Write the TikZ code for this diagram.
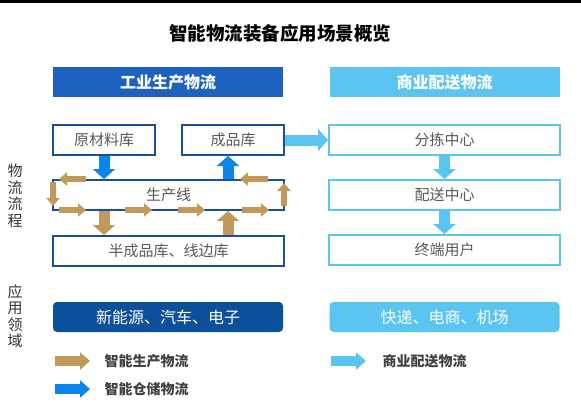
\documentclass[tikz,border=0pt]{standalone}
\usepackage{fontspec}
\setmainfont{Noto Sans CJK SC}
\usetikzlibrary{positioning, arrows.meta}
\usepackage{xcolor}
\definecolor{indblue}{HTML}{1E62C0}
\definecolor{comblue}{HTML}{5BC4F1}
\definecolor{frameblue}{HTML}{1B4F9C}
\definecolor{appblue}{HTML}{0C4F9B}
\definecolor{storeblue}{HTML}{0A86EA}
\definecolor{prodgold}{HTML}{C09A5A}
\definecolor{boxgray}{HTML}{595959}

\begin{document}
\begin{tikzpicture}[
        x=1pt, y=-1pt,
        hdr/.style={rectangle, minimum width=230pt, minimum height=30pt, text=white, font=\fontsize{16}{18}\selectfont\bfseries},
        box/.style={rectangle, draw=frameblue, line width=2pt, fill=white, minimum height=30pt, text=boxgray, font=\fontsize{15}{17}\selectfont},
        cbox/.style={box, draw=comblue, minimum width=231pt},
        app/.style={rectangle, rounded corners=4pt, minimum width=230pt, minimum height=30pt, text=white, font=\fontsize{16}{18}\selectfont},
        side/.style={align=center, text=black!80, font=\fontsize{15}{16.5}\selectfont},
        lgd/.style={anchor=west, text=black!75, font=\fontsize{14}{16}\selectfont\bfseries},
        bigarrow/.style={-{Triangle[length=10pt, width=22pt]}, line width=11pt},
        smallarrow/.style={-{Triangle[length=8pt, width=13pt]}, line width=6.5pt, prodgold},
        lgdarrow/.style={-{Triangle[length=10pt, width=17pt]}, line width=10pt}
    ]
        \useasboundingbox (0,0) rectangle (581,407);
        \fill[black] (0,0) rectangle (581,2.5);

        % Title
        \node[font=\fontsize{18.5}{20}\selectfont\bfseries] (title) at (280,33) {智能物流装备应用场景概览};

        % Headers
        \node[hdr, fill=indblue] (ind) at (168,82) {工业生产物流};
        \node[hdr, fill=comblue] (com) at (444.5,82) {商业配送物流};

        % Side labels
        \node[side] (flow) at (15,196) {物\\流\\流\\程};
        \node[side] (field) at (15,316) {应\\用\\领\\域};

        % Industrial flow
        \node[box, minimum width=102pt] (raw) at (104,140) {原材料库};
        \node[box, minimum width=102pt, right=25pt of raw] (fin) {成品库};
        \node[box, minimum width=231pt] (line) at (168.5,195) {生产线};
        \node[box, minimum width=231pt, below=24pt of line] (semi) {半成品库、线边库};

        % Commercial flow
        \node[cbox] (sort) at (444.5,140) {分拣中心};
        \node[cbox, below=23pt of sort] (dist) {配送中心};
        \node[cbox, below=23pt of dist] (user) {终端用户};

        % Applications
        \node[app, fill=appblue] (appind) at (168,317) {新能源、汽车、电子};
        \node[app, fill=comblue] (appcom) at (444.5,317) {快递、电商、机场};

        % Storage arrows
        \draw[bigarrow, storeblue] (raw.south) -- (raw.south |- line.north);
        \draw[bigarrow, storeblue] ([xshift=-5pt]fin.south |- line.north) -- ([xshift=-5pt]fin.south);

        % Production arrows
        \draw[bigarrow, prodgold] (raw.south |- line.south) -- (raw.south |- semi.north);
        \draw[bigarrow, prodgold] ([xshift=-5pt]fin.south |- semi.north) -- ([xshift=-5pt]fin.south |- line.south);
        \draw[smallarrow] ([xshift=34pt]line.north west) -- ([xshift=7pt]line.north west);
        \draw[smallarrow] ([xshift=-17pt]line.north east) -- ([xshift=-45pt]line.north east);
        \draw[smallarrow] ([xshift=1pt, yshift=-3pt]line.north west) -- ([xshift=1pt, yshift=-27pt]line.north west);
        \draw[smallarrow] ([xshift=-1pt, yshift=5pt]line.south east) -- ([xshift=-1pt, yshift=28pt]line.south east);
        \foreach \s in {7, 73, 126, 190}
            \draw[smallarrow] ([xshift=\s pt, yshift=1pt]line.south west) -- ([xshift=\s pt+27pt, yshift=1pt]line.south west);

        % Delivery arrows
        \draw[bigarrow, comblue] (fin.east) -- (sort.west);
        \draw[bigarrow, comblue] (sort.south) -- (dist.north);
        \draw[bigarrow, comblue] (dist.south) -- (user.north);

        % Legend
        \coordinate (lg1) at (55,361);
        \coordinate (lg2) at (55,389);
        \coordinate (lg3) at (331,361);
        \draw[lgdarrow, prodgold] (lg1) -- ++(35,0);
        \draw[lgdarrow, storeblue] (lg2) -- ++(35,0);
        \draw[lgdarrow, comblue] (lg3) -- ++(35,0);
        \node[lgd] (lt1) at (101,361) {智能生产物流};
        \node[lgd] (lt2) at (101,389) {智能仓储物流};
        \node[lgd] (lt3) at (379,361) {商业配送物流};
    \end{tikzpicture}
\end{document}
